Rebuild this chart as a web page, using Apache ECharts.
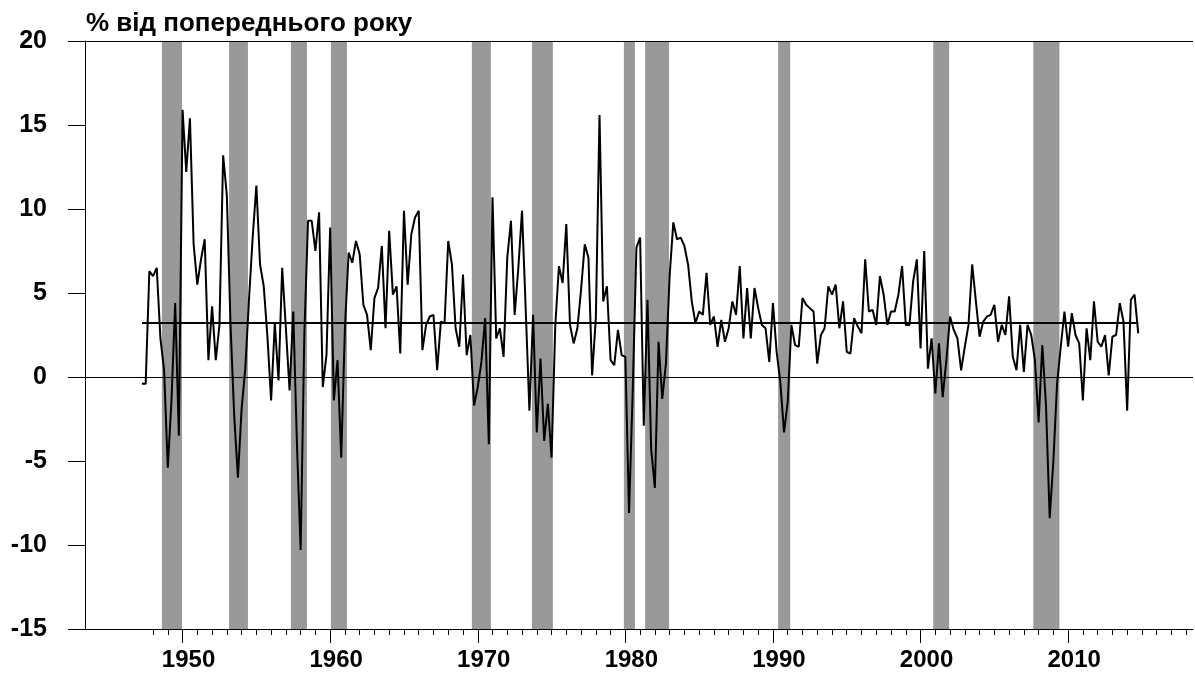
<!DOCTYPE html>
<html>
<head>
<meta charset="utf-8">
<script src="https://cdn.jsdelivr.net/npm/echarts@6/dist/echarts.min.js"></script>
<style>
html,body{margin:0;padding:0;background:#fff;}
#chart{width:1195px;height:675px;}
</style>
</head>
<body>
<div id="chart"></div>
<script>
// Quarterly growth, % (first point: 1947 Q2)
const startYear = 1947, startQuarter = 2;
const g1947_1949 = [-0.4,-0.4,6.3,6.0,6.5,2.3,0.4,-5.4,-1.4,4.4,-3.5];
const g1950s = [15.9,12.2,15.4,7.9, 5.5,7.0,8.2,1.0, 4.2,1.0,3.1,13.2, 10.8,3.1,-2.3,-6.0, -1.9,0.5,4.6,8.3,
  11.4,6.7,5.4,2.4, -1.4,3.2,-0.2,6.5, 2.9,-0.8,3.9,-4.0, -10.3,2.5,9.3,9.3, 7.5,9.8,-0.6,1.3];
const g1960s = [8.9,-1.4,1.0,-4.8, 2.9,7.4,6.8,8.1, 7.3,4.3,3.7,1.6, 4.7,5.3,7.8,2.9, 8.7,4.9,5.4,1.4,
  9.9,5.5,8.5,9.5, 9.9,1.6,3.1,3.6, 3.7,0.4,3.3,3.2, 8.1,6.7,2.9,1.8, 6.1,1.3,2.5,-1.7];
const g1970s = [-0.6,0.9,3.5,-4.0, 10.7,2.3,2.9,1.2, 7.1,9.3,3.7,6.5, 9.9,4.0,-2.0,3.7, -3.3,1.1,-3.8,-1.6,
  -4.8,3.0,6.6,5.6, 9.1,3.1,2.0,2.9, 5.2,7.9,7.1,0.1, 3.5,15.6,4.5,5.4, 1.0,0.7,2.8,1.3];
const g1980s = [1.2,-8.1,-0.8,7.7, 8.3,-2.9,4.6,-4.3, -6.6,2.1,-1.3,0.8, 6.0,9.2,8.2,8.3, 7.8,6.7,4.5,3.2,
  3.9,3.7,6.2,3.1, 3.6,1.8,3.4,2.1, 2.9,4.5,3.7,6.6, 2.3,5.3,2.3,5.3, 4.1,3.1,2.9,0.9];
const g1990s = [4.4,1.5,-0.3,-3.3, -1.5,3.1,1.9,1.8, 4.7,4.3,4.1,3.9, 0.8,2.5,2.9,5.4, 4.9,5.5,2.9,4.5,
  1.5,1.4,3.5,3.0, 2.6,7.0,3.9,4.0, 3.1,6.0,4.9,3.1, 3.9,3.9,4.9,6.6, 3.1,3.1,5.7,7.0];
const g2000s = [1.7,7.5,0.5,2.3, -1.0,2.0,-1.2,1.0, 3.6,2.8,2.3,0.4, 1.8,3.1,6.7,4.5, 2.4,3.3,3.6,3.7,
  4.3,2.1,3.1,2.5, 4.8,1.2,0.4,3.1, 0.3,3.1,2.5,1.0, -2.7,1.9,-1.7,-8.4, -5.0,-0.4,1.8,3.9];
const g2010s = [1.8,3.8,2.5,2.0, -1.4,2.9,1.0,4.5, 2.1,1.8,2.5,0.1, 2.4,2.5,4.4,3.3, -2.0,4.6,4.9,2.6];

// Recession periods (decimal years, start/end)
const recessions = [[1948.6,1949.96],[1953.15,1954.43],[1957.34,1958.43],[1960.05,1961.14],
  [1969.6,1970.89],[1973.67,1975.09],[1979.9,1980.65],[1981.34,1982.96],[1990.35,1991.17],
  [2000.86,2001.94],[2007.64,2009.41]];

const yearLabels = [1950,1960,1970,1980,1990,2000,2010];
const minorYears = [];
for (let y = 1948; y <= 2018; y++) minorYears.push(y);
const titleText = '% від попереднього року';

const values = [].concat(g1947_1949,g1950s,g1960s,g1970s,g1980s,g1990s,g2000s,g2010s);
const t0 = startYear + (startQuarter - 1) / 4;
const points = values.map((v, i) => [t0 + i * 0.25, v]);
const mean = values.reduce((a, b) => a + b, 0) / values.length;
const xFirst = points[0][0], xLast = points[points.length - 1][0];

const X_MIN = 1943.39, X_MAX = 2018.46;
const FONT = '"Liberation Sans", Arial, sans-serif';

const chart = echarts.init(document.getElementById('chart'));
chart.setOption({
  animation: false,
  backgroundColor: '#ffffff',
  title: {
    text: titleText, left: 81, top: 6,
    textStyle: {fontFamily: FONT, fontWeight: 'bold', fontSize: 26, color: '#000'}
  },
  grid: {left: 85, top: 41, width: 1108, height: 588, containLabel: false},
  xAxis: [{
    type: 'value', min: X_MIN, max: X_MAX, position: 'bottom',
    axisLine: {show: true, onZero: false, lineStyle: {color: '#000', width: 1}},
    axisTick: {show: true, inside: false, length: 14, customValues: yearLabels, lineStyle: {color: '#000', width: 1}},
    axisLabel: {show: true, customValues: yearLabels, margin: 19, padding: [0,0,0,12],
      fontFamily: FONT, fontWeight: 'bold', fontSize: 24, color: '#000', formatter: v => String(v)},
    splitLine: {show: false}
  }, {
    type: 'value', min: X_MIN, max: X_MAX, position: 'bottom',
    axisLine: {show: false, onZero: false},
    axisTick: {show: true, inside: false, length: 6, customValues: minorYears, lineStyle: {color: '#000', width: 1}},
    axisLabel: {show: false},
    splitLine: {show: false}
  }],
  yAxis: {
    type: 'value', min: -15, max: 20, interval: 5,
    axisLine: {show: true, onZero: false, lineStyle: {color: '#000', width: 1}},
    axisTick: {show: true, inside: false, length: 17, lineStyle: {color: '#000', width: 1}},
    axisLabel: {margin: 38, fontFamily: FONT, fontWeight: 'bold', fontSize: 25, color: '#000'},
    splitLine: {show: false}
  },
  series: [{
    type: 'line', data: [], z: 1, silent: true,
    markArea: {
      silent: true,
      itemStyle: {color: '#999999', opacity: 1},
      data: recessions.map(r => [{xAxis: r[0]}, {xAxis: r[1]}])
    }
  }, {
    type: 'line', data: [], z: 2, silent: true,
    markLine: {
      silent: true, symbol: 'none', label: {show: false},
      lineStyle: {color: '#000', width: 1, type: 'solid'},
      data: [{yAxis: 20}, {yAxis: 0}]
    }
  }, {
    type: 'line', data: points, z: 4, showSymbol: false, symbol: 'none',
    lineStyle: {color: '#000', width: 2},
    markLine: {
      silent: true, symbol: 'none', label: {show: false},
      lineStyle: {color: '#000', width: 2, type: 'solid'},
      data: [[{coord: [xFirst, mean]}, {coord: [xLast, mean]}]]
    }
  }]
});
</script>
</body>
</html>
